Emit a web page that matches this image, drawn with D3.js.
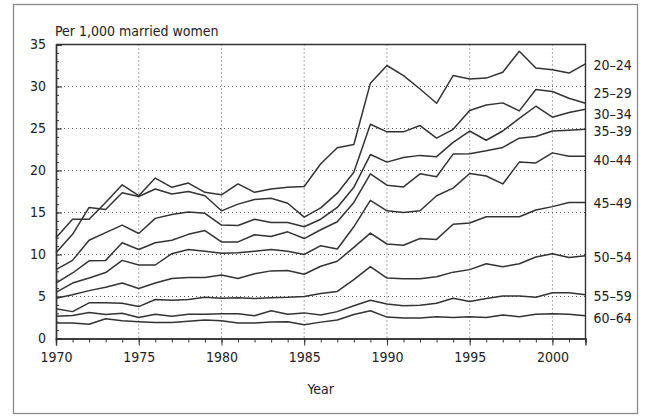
<!DOCTYPE html>
<html><head><meta charset="utf-8">
<script src="https://cdn.jsdelivr.net/npm/d3@7/dist/d3.min.js"></script>
<style>
body{margin:0;background:#fff}
text{font-family:"Liberation Sans Narrow","Arial Narrow","DejaVu Sans Condensed","Liberation Sans",Arial,sans-serif;fill:#222}
</style>
</head><body>
<svg id="chart" width="652" height="417"></svg>
<script>
// ---- data ----
const years = [1970,1971,1972,1973,1974,1975,1976,1977,1978,1979,1980,1981,1982,1983,1984,1985,1986,1987,1988,1989,1990,1991,1992,1993,1994,1995,1996,1997,1998,1999,2000,2001,2002];
const seriesNames = ["20–24","25–29","30–34","35–39","40–44","45–49","50–54","55–59","60–64"];
const s20_24 = [12.0,14.2,14.2,16.2,18.3,17.0,19.1,18.0,18.5,17.4,17.1,18.4,17.4,17.8,18.0,18.1,20.8,22.7,23.1,30.4,32.5,31.3,29.7,28.0,31.3,30.9,31.0,31.7,34.2,32.2,32.0,31.6,32.7];
const s25_29 = [10.2,12.4,15.6,15.35,17.35,16.9,17.8,17.2,17.5,17.0,15.2,16.0,16.55,16.7,16.1,14.45,15.55,17.3,19.8,25.5,24.6,24.6,25.35,23.85,24.9,27.15,27.8,28.05,27.1,29.65,29.4,28.6,28.0];
const s30_34 = [8.2,9.3,11.7,12.6,13.5,12.5,14.3,14.75,15.05,14.9,13.5,13.45,14.2,13.8,13.8,13.3,14.2,15.6,18.0,21.9,21.0,21.55,21.8,21.65,23.35,24.7,23.6,24.7,26.2,27.65,26.35,26.9,27.3];
const s35_39 = [6.6,7.8,9.25,9.3,11.4,10.6,11.4,11.7,12.4,12.85,11.5,11.5,12.35,12.15,12.7,11.9,12.95,13.9,16.2,19.6,18.25,18.05,19.6,19.25,21.95,22.0,22.35,22.75,23.85,24.05,24.7,24.8,24.9];
const s40_44 = [5.5,6.6,7.2,7.85,9.3,8.75,8.75,10.1,10.6,10.4,10.15,10.2,10.4,10.6,10.4,10.0,11.05,10.65,13.3,16.45,15.2,15.0,15.2,17.0,17.9,19.65,19.35,18.4,21.0,20.9,22.1,21.7,21.7];
const s45_49 = [4.8,5.2,5.7,6.1,6.6,5.95,6.6,7.15,7.25,7.25,7.55,7.15,7.7,8.05,8.1,7.65,8.6,9.2,10.85,12.55,11.25,11.1,11.9,11.8,13.6,13.75,14.5,14.5,14.5,15.3,15.7,16.2,16.2];
const s50_54 = [3.55,3.2,4.25,4.25,4.2,3.8,4.65,4.55,4.65,4.9,4.8,4.85,4.75,4.85,4.9,5.0,5.35,5.6,7.0,8.55,7.2,7.1,7.1,7.35,7.9,8.2,8.9,8.55,8.9,9.7,10.1,9.65,9.85];
const s55_59 = [2.65,2.75,3.1,2.85,3.0,2.5,2.9,2.65,2.9,2.9,2.95,2.95,2.7,3.3,2.9,3.05,2.8,3.2,3.9,4.55,4.1,3.9,3.95,4.2,4.8,4.4,4.75,5.05,5.05,4.9,5.45,5.45,5.2];
const s60_64 = [1.85,1.85,1.7,2.35,2.1,2.0,1.9,1.9,2.05,2.2,2.1,1.85,1.85,1.95,2.0,1.65,1.95,2.2,2.85,3.3,2.55,2.45,2.45,2.6,2.5,2.6,2.5,2.8,2.6,2.9,2.95,2.9,2.7];
const xTickLabels = [1970,1975,1980,1985,1990,1995,2000];
const yTickLabels = [0,5,10,15,20,25,30,35];
const yAxisTitle = "Per 1,000 married women";
const xAxisTitle = "Year";

// ---- layout ----
const seriesValues = [s20_24,s25_29,s30_34,s35_39,s40_44,s45_49,s50_54,s55_59,s60_64];
const labelNudge = [1.6,-10.2,4.5,1.7,3.4,1.1,1.7,1.3,1.9];
const L = 56, R = 585.5, T = 44.5, B = 338.5;
const svg = d3.select("#chart");

svg.append("rect").attr("x",13.5).attr("y",4.5).attr("width",624).attr("height",409)
  .attr("fill","none").attr("stroke","#8a8a8a").attr("stroke-width",1.3);

const x = d3.scaleLinear().domain([1970,2002]).range([L,R]);
const y = d3.scaleLinear().domain([0,35]).range([B,T]);

// gridlines
const g = svg.append("g");
g.selectAll("line.hg").data(yTickLabels.filter(v=>v>0&&v<35)).join("line")
  .attr("x1",L).attr("x2",R).attr("y1",d=>y(d)).attr("y2",d=>y(d))
  .attr("stroke","#555").attr("stroke-width",1).attr("stroke-dasharray","1,3");
g.selectAll("line.vg").data(xTickLabels.filter(v=>v>1970)).join("line")
  .attr("y1",T).attr("y2",B).attr("x1",d=>x(d)).attr("x2",d=>x(d))
  .attr("stroke","#555").attr("stroke-width",1).attr("stroke-dasharray","1,3");

// frame top/right
svg.append("path").attr("d",`M${L},${T}H${R}V${B}`).attr("fill","none")
  .attr("stroke","#333").attr("stroke-width",1.4);

// x axis minor & major
const xMinor = d3.axisBottom(x).tickValues(years).tickSize(4).tickFormat("");
const xMajor = d3.axisBottom(x).tickValues(xTickLabels).tickSize(7).tickPadding(7).tickFormat(d3.format("d"));
const gxm = svg.append("g").attr("transform",`translate(0,${B})`).call(xMinor);
const gx = svg.append("g").attr("transform",`translate(0,${B})`).call(xMajor);
[gxm,gx].forEach(a=>{a.selectAll("line").attr("stroke","#333");a.select(".domain").attr("stroke","#333").attr("stroke-width",1.4);});
gx.selectAll("text").attr("font-size",14).attr("fill","#222").style("font-family",null);

// y axis minor & major (ticks inward)
const yMinorVals = d3.range(0,36);
const yMinor = d3.axisLeft(y).tickValues(yMinorVals).tickSize(-3).tickFormat("");
const yMajor = d3.axisLeft(y).tickValues(yTickLabels).tickSize(-6).tickPadding(10).tickFormat(d3.format("d"));
const gym = svg.append("g").attr("transform",`translate(${L},0)`).call(yMinor);
const gy = svg.append("g").attr("transform",`translate(${L},0)`).call(yMajor);
[gym,gy].forEach(a=>{a.selectAll("line").attr("stroke","#333");a.select(".domain").attr("stroke","#333").attr("stroke-width",1.4);});
gy.selectAll("text").attr("font-size",14).attr("fill","#222").style("font-family",null);

// lines
const line = d3.line().x((d,i)=>x(years[i])).y(d=>y(d));
svg.append("g").selectAll("path").data(seriesValues).join("path")
  .attr("d",line).attr("fill","none").attr("stroke","#333").attr("stroke-width",1.5)
  .attr("stroke-linejoin","round");

// series labels
svg.append("g").selectAll("text").data(seriesNames).join("text")
  .attr("x",R+8).attr("y",(d,i)=>y(seriesValues[i][seriesValues[i].length-1])+labelNudge[i])
  .attr("dy","0.35em").attr("font-size",14).text(d=>d);

// titles
svg.append("text").attr("x",L-1).attr("y",36).attr("font-size",14).text(yAxisTitle);
svg.append("text").attr("x",(L+R)/2).attr("y",394).attr("text-anchor","middle").attr("font-size",14).text(xAxisTitle);
</script>
</body></html>
